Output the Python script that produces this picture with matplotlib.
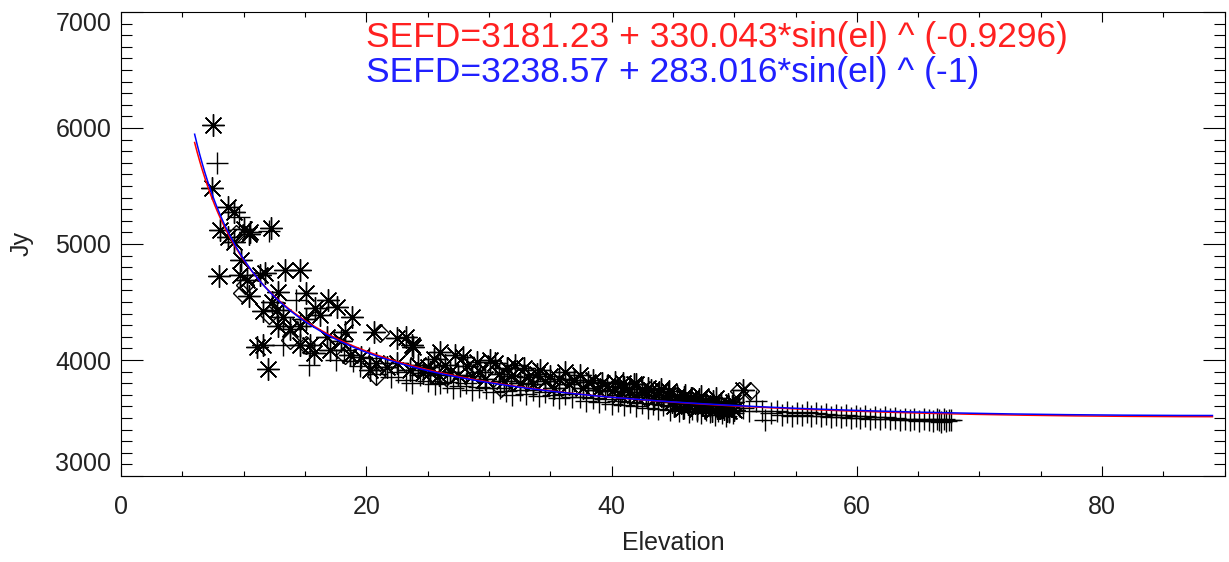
import numpy as np
import matplotlib
matplotlib.use('Agg')
import matplotlib.pyplot as plt
from matplotlib.ticker import MultipleLocator

plt.rcParams['font.family'] = ['Liberation Sans', 'DejaVu Sans']

# fit coefficients shown on the plot: SEFD = a + b*sin(el)^p
fit_red = [3181.23, 330.043, -0.9296]
fit_blue = [3238.57, 283.016, -1.0]
fit_el_range = [6.0, 89.0]

# asterisk points (elevation deg, Jy)
ast_el = [7.5, 7.4, 8.0, 8.1, 8.7, 8.75, 9.2, 9.2, 9.7, 9.8, 10.0, 10.25, 10.4, 10.5, 10.4,
          11.1, 11.3, 11.6, 11.6, 11.75, 12.0, 12.2, 12.3, 12.7, 12.8, 12.8, 13.2, 13.4, 13.8,
          14.6, 14.6, 14.6, 15.1, 15.1, 15.4, 15.7, 15.8, 16.2, 16.8, 16.9, 17.0, 17.6, 17.9,
          18.3, 18.7, 18.8, 19.6, 20.3, 20.6, 20.8, 21.7, 22.5, 22.5, 23.2, 23.6, 23.7, 23.8,
          24.2, 24.6, 25.0, 25.2, 25.5, 25.9, 26.0, 26.4, 26.8, 27.2, 27.5, 27.9, 28.2, 28.6,
          29.0, 29.3, 29.7, 30.1, 30.5, 30.8, 31.2, 31.5, 31.8, 32.1, 32.5, 32.9, 33.2, 33.6,
          33.9, 34.2, 34.6, 35.0, 35.3, 35.7, 36.2, 36.5, 36.9, 37.4, 37.7, 38.1, 38.5, 38.9,
          39.2, 39.6, 40.0, 40.3, 40.7, 41.0, 41.4, 41.8, 42.1, 42.5, 42.8, 43.2, 43.5, 43.9,
          44.2, 44.6, 44.9, 45.3, 45.6, 45.9, 46.2, 46.5, 46.8, 47.1, 47.4, 47.7, 48.0, 48.3,
          48.6, 48.9, 49.2, 49.5, 49.8, 50.0, 50.7,
          45.1, 45.8, 46.4, 47.0, 47.6, 48.2, 48.8, 49.4, 49.9, 46.0, 47.3, 48.5, 49.6,
          40.9, 42.0, 43.0, 44.0, 44.7]
ast_jy = [6030, 5480, 4720, 5120, 5320, 5060, 5280, 5020, 4730, 4860, 5130, 4690, 5090, 5100, 4550,
          4110, 4730, 4130, 4420, 4750, 3920, 5140, 4500, 4430, 4590, 4290, 4370, 4780, 4270,
          4780, 4290, 4130, 4580, 4350, 4130, 4060, 4450, 4390, 4200, 4520, 4090, 4460, 4160,
          4240, 4040, 4370, 4030, 3910, 4240, 3970, 3940, 4190, 3970, 4200, 3910, 4130, 4110,
          3960, 3890, 3940, 3900, 4010, 3870, 4070, 3960, 3900, 4040, 3870, 4030, 3950, 3860,
          3980, 3900, 3840, 4000, 3970, 3880, 3820, 3930, 3860, 3960, 3800, 3930, 3850, 3790,
          3880, 3910, 3820, 3860, 3760, 3840, 3900, 3790, 3830, 3870, 3760, 3810, 3830, 3740,
          3800, 3780, 3730, 3810, 3700, 3770, 3720, 3790, 3680, 3750, 3700, 3740, 3660, 3720,
          3680, 3700, 3640, 3690, 3650, 3680, 3620, 3670, 3630, 3660, 3610, 3640, 3600, 3650,
          3590, 3630, 3580, 3620, 3600, 3570, 3740,
          3600, 3590, 3650, 3580, 3600, 3560, 3610, 3560, 3640, 3700, 3690, 3670, 3560,
          3800, 3790, 3760, 3750, 3730]

# plus points
plus_el = [7.85, 9.6, 12.1, 13.2, 14.3, 15.3, 17.5, 18.2, 18.9, 19.5, 20.2, 20.8, 21.5, 22.0,
           22.6, 23.2, 23.7, 24.4, 25.0, 25.6, 26.0, 26.6, 27.1, 27.6, 28.1, 28.6, 29.2, 29.8,
           30.3, 30.9, 31.4, 31.9, 32.5, 33.0, 33.6, 34.1, 34.6, 35.2, 35.7, 36.2, 36.8, 37.4,
           37.9, 38.5, 39.0, 39.5, 40.0, 40.5, 41.0, 41.5, 42.0, 42.5, 43.0, 43.4, 43.8, 44.2,
           44.8, 45.2, 45.5, 45.9, 46.3, 46.6, 47.0, 47.3, 47.7, 48.0, 48.4, 48.7, 49.0, 49.3,
           49.6, 49.9,
           50.4, 50.7, 51.2, 51.8, 52.3, 52.5, 53.0, 53.5, 53.9, 54.3, 54.7, 55.1, 55.5, 55.9,
           56.3, 56.7, 57.1, 57.5, 57.9, 58.3, 58.7, 59.1, 59.5, 59.9, 60.3, 60.7, 61.1, 61.5,
           61.9, 62.3, 62.7, 63.1, 63.5, 63.9, 64.3, 64.7, 65.1, 65.5, 65.9, 66.2, 66.5, 66.7,
           66.9, 67.1, 67.3, 67.5, 67.7]
plus_jy = [5700, 5230, 5110, 4130, 4520, 3960, 4000, 4090, 3990, 3950, 4020, 3880, 3940, 3850,
           3900, 3830, 3800, 3870, 3820, 3790, 3800, 3810, 3760, 3780, 3800, 3740, 3770, 3760,
           3720, 3760, 3730, 3700, 3740, 3710, 3740, 3690, 3720, 3700, 3670, 3710, 3680, 3680,
           3650, 3670, 3640, 3660, 3620, 3650, 3610, 3640, 3600, 3630, 3590, 3620, 3580, 3610,
           3570, 3600, 3560, 3590, 3550, 3580, 3560, 3540, 3570, 3550, 3530, 3560, 3540, 3520,
           3550, 3540,
           3600, 3590, 3560, 3650, 3560, 3480, 3540, 3560, 3530, 3550, 3520, 3545, 3530, 3550,
           3520, 3540, 3515, 3535, 3510, 3530, 3505, 3525, 3500, 3520, 3500, 3515, 3495, 3510,
           3490, 3505, 3490, 3500, 3480, 3495, 3485, 3495, 3475, 3490, 3480, 3470, 3495, 3480,
           3465, 3490, 3475, 3485, 3480]

# diamond points
dia_el = [9.4, 9.9, 10.1, 12.1, 13.8, 15.1, 18.3, 20.8, 21.1, 26.5, 31.0, 50.4, 51.3]
dia_jy = [5090, 4580, 4650, 4390, 4170, 4130, 4040, 3860, 4230, 3850, 3760, 3730, 3730]

red_text = 'SEFD=3181.23 + 330.043*sin(el) ^ (-0.9296)'
blue_text = 'SEFD=3238.57 + 283.016*sin(el) ^ (-1)'


def sefd(el, c):
    return c[0] + c[1] * np.sin(np.radians(el)) ** c[2]


fig = plt.figure(figsize=(12.29, 5.62), dpi=100)
ax = fig.add_axes([0.0985, 0.153, 0.898, 0.8257])

ax.plot(ast_el, ast_jy, linestyle='none', marker=(8, 2, 0), markersize=16,
        markeredgewidth=1.0, color='black')
ax.plot(plus_el, plus_jy, linestyle='none', marker='+', markersize=16,
        markeredgewidth=1.0, color='black')
ax.plot(dia_el, dia_jy, linestyle='none', marker='D', markersize=9,
        markeredgewidth=1.0, markerfacecolor='none', markeredgecolor='black')

el = np.linspace(fit_el_range[0], fit_el_range[1], 400)
ax.plot(el, sefd(el, fit_red), color='red', lw=1.1)
ax.plot(el, sefd(el, fit_blue), color='blue', lw=1.1)

ax.text(20, 6700, red_text, color='#ff2020', fontsize=25.5, va='baseline')
ax.text(20, 6400, blue_text, color='#2020ff', fontsize=25.5, va='baseline')

ax.set_xlim(0, 90)
ax.set_ylim(3000, 7000)
ax.xaxis.set_major_locator(MultipleLocator(20))
ax.xaxis.set_minor_locator(MultipleLocator(5))
ax.yaxis.set_major_locator(MultipleLocator(1000))
ax.yaxis.set_minor_locator(MultipleLocator(100))
ax.tick_params(axis='x', which='both', direction='in', top=True, labelsize=18,
               labelcolor='#222222', pad=14)
ax.tick_params(axis='x', which='major', length=7, width=0.8)
ax.tick_params(axis='x', which='minor', length=3.6, width=0.8)
ax.tick_params(axis='y', which='both', direction='in', right=True, labelsize=18,
               labelcolor='#222222', pad=7)
ax.tick_params(axis='y', which='major', length=16, width=0.8)
ax.tick_params(axis='y', which='minor', length=8, width=0.8)
for s in ax.spines.values():
    s.set_linewidth(0.8)

# IDL-style: the end labels sit a little inside the axis range
ylabels = ax.get_yticklabels()
fig.canvas.draw()
for lab in ax.get_yticklabels():
    if lab.get_text() == '7000':
        lab.set_va('top')
        lab.set_y(7000 - 0)
    elif lab.get_text() == '3000':
        lab.set_va('bottom')

ax.set_xlabel('Elevation', fontsize=18, color='#222222', labelpad=8)
ax.set_ylabel('Jy', fontsize=18, color='#222222', labelpad=16)

fig.savefig('out.png', dpi=100)
